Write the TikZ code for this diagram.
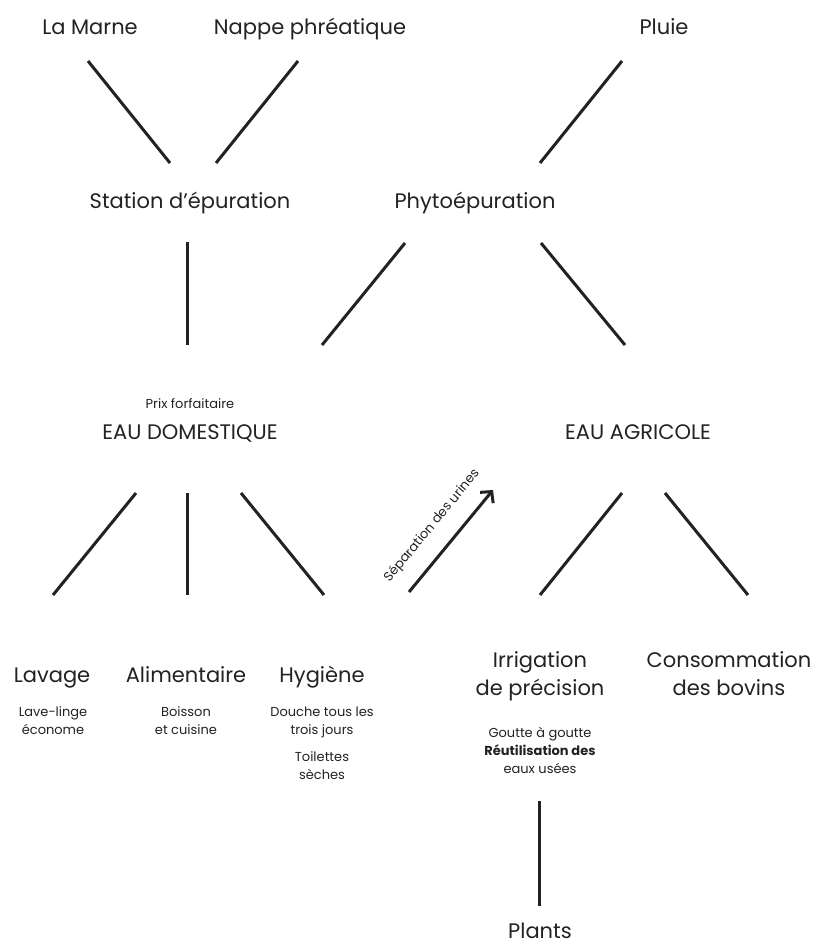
\documentclass[tikz,border=0pt]{standalone}
\usepackage{fontspec}
\setmainfont{Poppins}
\usetikzlibrary{arrows.meta, positioning}

\definecolor{ink}{HTML}{222222}

\begin{document}
\begin{tikzpicture}[
        x=1pt, y=-1pt,
        big/.style   = {font=\fontsize{21}{28}\selectfont, align=center, inner sep=0pt, anchor=base, text=ink},
        small/.style = {font=\fontsize{13}{18}\selectfont, align=center, inner sep=0pt, anchor=base, text=ink},
        ln/.style    = {line width=3pt, draw=ink},
        ar/.style    = {ln, -{Straight Barb[length=8pt, width=17pt, line width=3pt]}}
    ]
        \useasboundingbox (0,0) rectangle (813,945);

        % sources
        \node[big] (marne)   at (90,34)   {La Marne};
        \node[big] (nappe)   at (310,34)  {Nappe phréatique};
        \node[big] (pluie)   at (664,34)  {Pluie};
        \node[big] (station) at (190,208) {Station d’épuration};
        \node[big] (phyto)   at (475,208) {Phytoépuration};

        % usages (base = last line)
        \node[small] (prix) at (190,408) {Prix forfaitaire};
        \node[big]   (dom)  at (190,439) {EAU DOMESTIQUE};
        \node[big]   (agri) at (638,439) {EAU AGRICOLE};

        \node[big]   (lavage)  at (52,682)  {Lavage};
        \node[big]   (alim)    at (186,682) {Alimentaire};
        \node[big]   (hyg)     at (322,682) {Hygiène};
        \node[small] (linge)   at (53,734)  {Lave-linge\\économe};
        \node[small] (boisson) at (186,734) {Boisson\\et cuisine};
        \node[small] (douche)  at (322,734) {Douche tous les\\trois jours};
        \node[small] (toil)    at (322,779) {Toilettes\\sèches};

        \node[big]   (irrig)  at (540,695) {Irrigation\\de précision};
        \node[big]   (bovins) at (729,695) {Consommation\\des bovins};
        \node[small] (goutte) at (540,773) {Goutte à goutte\\{\bfseries Réutilisation des}\\eaux usées};
        \node[big]   (plants) at (540,938) {Plants};

        \node[small, anchor=center, rotate=50.5] (urine) at (432,526) {Séparation des urines};

        % line ends
        \coordinate (m1) at (88,61);   \coordinate (m2) at (170,163);
        \coordinate (n1) at (298,61);  \coordinate (n2) at (216,163);
        \coordinate (p1) at (622,61);  \coordinate (p2) at (540,163);
        \coordinate (s1) at (187,242); \coordinate (s2) at (187,345);
        \coordinate (f1) at (405,243); \coordinate (f2) at (322,345);
        \coordinate (f3) at (541,243); \coordinate (f4) at (625,345);
        \coordinate (d1) at (136,493); \coordinate (d2) at (53,595);
        \coordinate (d3) at (187,493); \coordinate (d4) at (187,595);
        \coordinate (d5) at (241,493); \coordinate (d6) at (324,595);
        \coordinate (a1) at (622,493); \coordinate (a2) at (540,595);
        \coordinate (a3) at (665,493); \coordinate (a4) at (748,595);
        \coordinate (u1) at (409,592); \coordinate (u2) at (493,490);
        \coordinate (g1) at (539,801); \coordinate (g2) at (539,906);

        \draw[ln] (m1) -- (m2);
        \draw[ln] (n1) -- (n2);
        \draw[ln] (p1) -- (p2);
        \draw[ln] (s1) -- (s2);
        \draw[ln] (f1) -- (f2);
        \draw[ln] (f3) -- (f4);
        \draw[ln] (d1) -- (d2);
        \draw[ln] (d3) -- (d4);
        \draw[ln] (d5) -- (d6);
        \draw[ln] (a1) -- (a2);
        \draw[ln] (a3) -- (a4);
        \draw[ar] (u1) -- (u2);
        \draw[ln] (g1) -- (g2);
    \end{tikzpicture}
\end{document}
